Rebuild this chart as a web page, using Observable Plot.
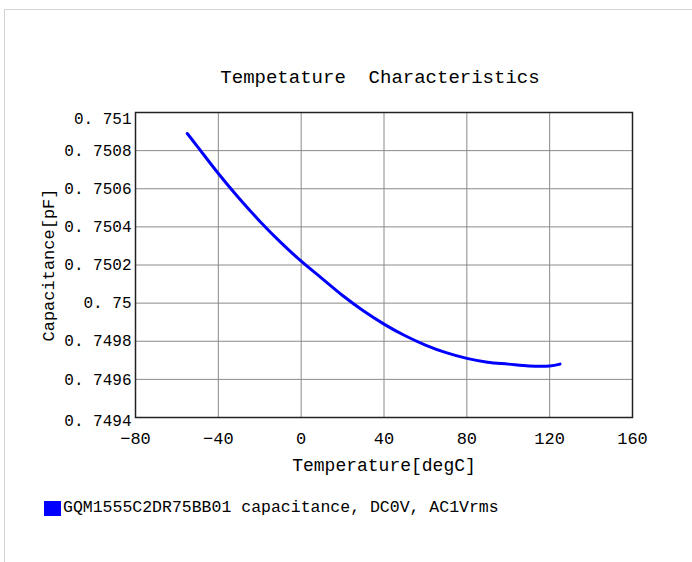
<!DOCTYPE html>
<html><head><meta charset="utf-8">
<script src="https://cdn.jsdelivr.net/npm/d3@7"></script>
<script src="https://cdn.jsdelivr.net/npm/@observablehq/plot@0.6"></script>
<style>
body{margin:0;background:#fff;font-family:"Liberation Mono","DejaVu Sans Mono",monospace;color:#000;}
#frame{position:absolute;left:4px;top:9px;width:760px;height:620px;border:1.5px solid #d4d4d4;}
#title{position:absolute;top:67px;left:0;width:760px;text-align:center;font-size:19px;line-height:22px;white-space:pre;}
#chart{position:absolute;top:90px;left:0;}
#legend{position:absolute;top:499px;left:44px;font-size:16.5px;line-height:18px;display:flex;align-items:center;white-space:nowrap;}
#legend .sw{width:17px;height:15px;background:#0000ff;margin-right:2px;}
</style></head>
<body>
<div id="frame"></div>
<div id="title"></div>
<div id="chart"></div>
<div id="legend"><span class="sw"></span><span id="legtext"></span></div>
<script>
const chartTitle = "Tempetature  Characteristics";
const xLabel = "Temperature[degC]";
const yLabel = "Capacitance[pF]";
const seriesName = "GQM1555C2DR75BB01 capacitance, DC0V, AC1Vrms";
const xTicks = [-80, -40, 0, 40, 80, 120, 160];
const yTicks = [0.7494, 0.7496, 0.7498, 0.75, 0.7502, 0.7504, 0.7506, 0.7508, 0.751];
const temperature = [-55, -50, -40, -30, -20, -10, 0, 10, 20, 30, 40, 50, 60, 70, 80, 90, 100, 110, 120, 125];
const capacitance = [0.75089, 0.75082, 0.75068, 0.75055, 0.75043, 0.75032, 0.75022, 0.75013, 0.75004, 0.74996, 0.74989, 0.74983, 0.74978, 0.74974, 0.74971, 0.74969, 0.74968, 0.74967, 0.74967, 0.74968];

const data = temperature.map((t, i) => ({t, c: capacitance[i]}));
const font = '"Liberation Mono","DejaVu Sans Mono",monospace';
const fmt = d => d.toFixed(4).replace(/0+$/, "").replace(".", ". ");
const yTop = yTicks[yTicks.length - 1];
const yBottom = yTicks[0];

document.getElementById("title").textContent = chartTitle;
document.getElementById("legtext").textContent = seriesName;

const plot = Plot.plot({
  width: 692,
  height: 392,
  marginLeft: 135,
  marginRight: 60,
  marginTop: 22,
  marginBottom: 65,
  style: {fontFamily: font, fontSize: "16px", color: "#000", background: "transparent"},
  x: {domain: [-80, 160]},
  y: {domain: [yBottom, yTop]},
  marks: [
    Plot.gridX(xTicks, {stroke: "#8a8a8a", strokeOpacity: 1, strokeWidth: 1}),
    Plot.gridY(yTicks, {stroke: "#8a8a8a", strokeOpacity: 1, strokeWidth: 1}),
    Plot.axisX(xTicks, {tickSize: 0, tickPadding: 14, label: null, fontSize: 17}),
    Plot.axisY(yTicks.filter(d => d !== yTop && d !== yBottom), {tickSize: 0, tickPadding: 4, label: null, fontSize: 16, tickFormat: fmt}),
    Plot.axisY([yTop], {tickSize: 0, tickPadding: 4, label: null, fontSize: 16, tickFormat: fmt, dy: 6}),
    Plot.axisY([yBottom], {tickSize: 0, tickPadding: 4, label: null, fontSize: 16, tickFormat: fmt, dy: 3}),
    Plot.frame({stroke: "#222", strokeWidth: 1.5}),
    Plot.line(data, {x: "t", y: "c", stroke: "#0000ff", strokeWidth: 3, curve: "catmull-rom"}),
    Plot.text([xLabel], {text: d => d, frameAnchor: "bottom", dy: 53, fontSize: 18, fill: "#000"}),
    Plot.text([yLabel], {text: d => d, frameAnchor: "left", dx: -87, rotate: -90, textAnchor: "middle", fontSize: 17, fill: "#000"})
  ]
});
document.getElementById("chart").appendChild(plot);
</script>
</body></html>
